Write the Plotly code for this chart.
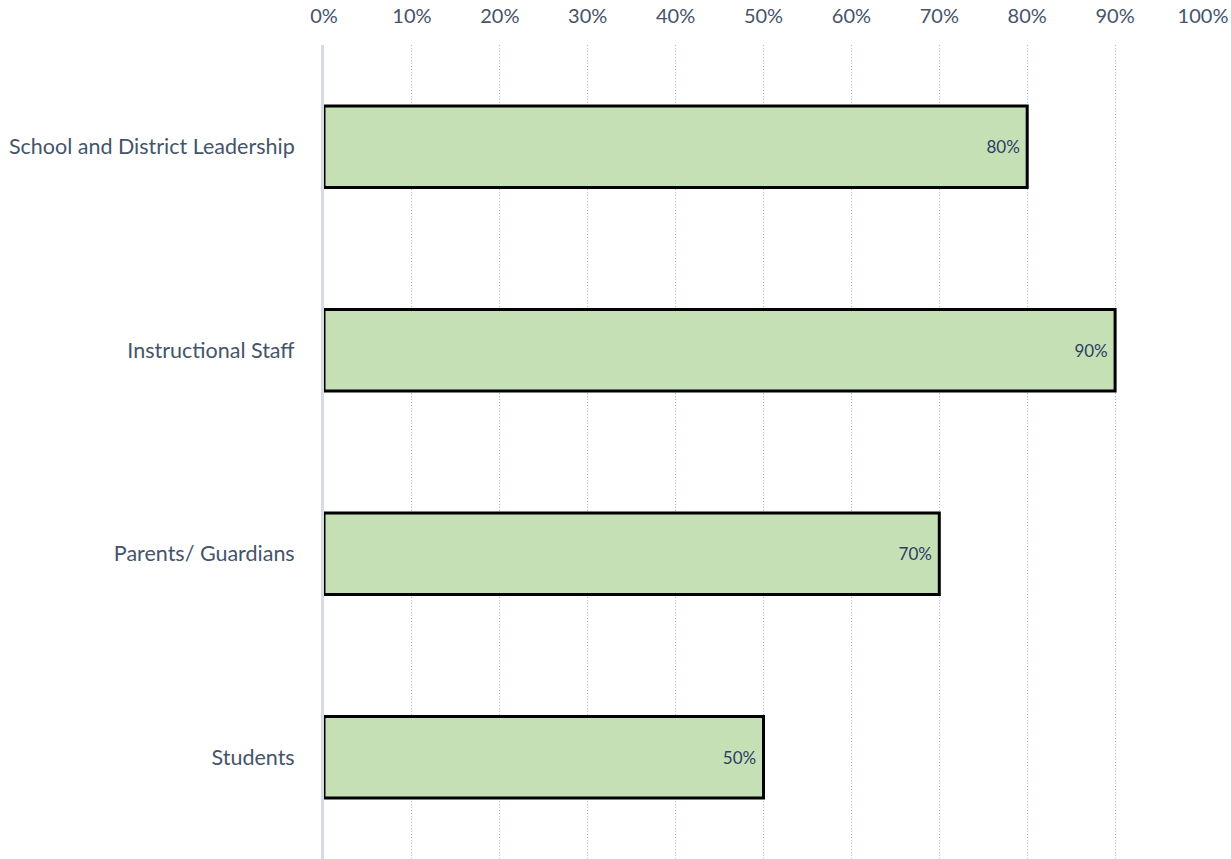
import plotly.graph_objects as go

categories = ["School and District Leadership", "Instructional Staff", "Parents/ Guardians", "Students"]
values = [0.80, 0.90, 0.70, 0.50]
labels = ["80%", "90%", "70%", "50%"]
tick_vals = [0, 0.1, 0.2, 0.3, 0.4, 0.5, 0.6, 0.7, 0.8, 0.9, 1.0]
tick_text = ["0%", "10%", "20%", "30%", "40%", "50%", "60%", "70%", "80%", "90%", "100%"]

fig = go.Figure(go.Bar(
    y=categories, x=values, orientation="h",
    marker=dict(color="#C5E0B4", line=dict(color="black", width=3)),
    text=[t + "\u00a0" for t in labels], textposition="inside", insidetextanchor="end",
    textfont=dict(size=17, color="#2E3D66", family="Lato"),
    width=0.4, cliponaxis=False,
))

fig.update_layout(
    width=1231, height=859,
    margin=dict(l=324, r=28, t=45, b=0, autoexpand=False),
    plot_bgcolor="white", paper_bgcolor="white",
    font=dict(family="Lato", color="#44546A"),
    showlegend=False,
    xaxis=dict(
        range=[0, 1], side="top", tickvals=tick_vals, ticktext=tick_text,
        tickfont=dict(size=20, color="#44546A"), automargin=False,
        showgrid=True, gridcolor="#9DB6E3", griddash="1px,2px", gridwidth=1,
        zeroline=False, showline=False, ticks="", ticklabelstandoff=17,
    ),
    yaxis=dict(
        autorange="reversed", tickfont=dict(size=21.5, color="#44546A"), automargin=False,
        showline=True, linecolor="#D6DCE5", linewidth=3,
        ticks="", ticklabelstandoff=22, showgrid=False,
    ),
)

fig.write_html(
    "out.html",
    config={"displayModeBar": False},
    post_script="document.body.style.margin='0px';document.body.style.overflow='hidden';",
)
